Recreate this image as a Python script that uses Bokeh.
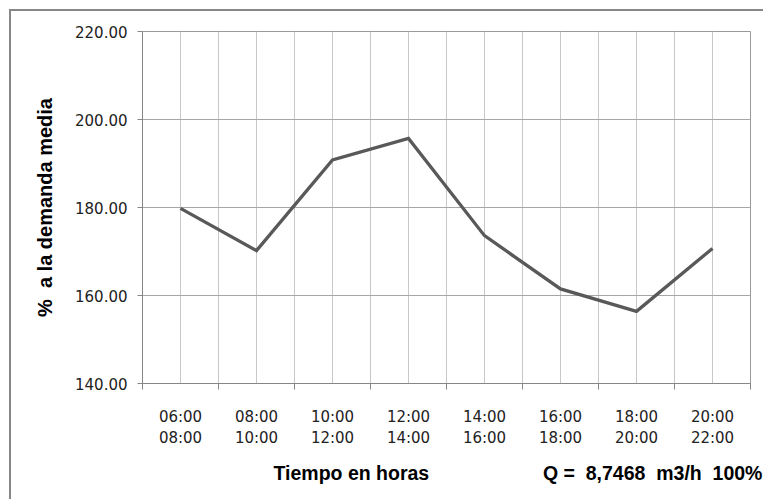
import numpy as np
from bokeh.plotting import figure
from bokeh.models import Range1d, FixedTicker, PrintfTickFormatter, Title
from bokeh.embed import file_html
from bokeh.resources import INLINE

# ---- data ----
period_start = ["06:00", "08:00", "10:00", "12:00", "14:00", "16:00", "18:00", "20:00"]
period_end = ["08:00", "10:00", "12:00", "14:00", "16:00", "18:00", "20:00", "22:00"]
demand_pct = [179.8, 170.2, 190.8, 195.7, 173.6, 161.5, 156.4, 170.7]
y_ticks = [140, 160, 180, 200, 220]
x_title = "Tiempo en horas"
y_title = "%\u00a0\u00a0a la demanda media"
q_note = "Q =\u00a0\u00a08,7468\u00a0\u00a0m3/h\u00a0\u00a0100%"

n = len(demand_pct)
centers = (np.arange(n) + 0.5).tolist()
bounds = np.arange(n + 1).tolist()
half_steps = (np.arange(2 * n + 1) / 2.0).tolist()

p = figure(width=754, height=490, output_backend="svg", toolbar_location=None,
           x_range=Range1d(0, n), y_range=Range1d(y_ticks[0], y_ticks[-1]),
           min_border_left=131, min_border_right=15, min_border_top=20, min_border_bottom=118)
p.styles = {"margin-left": "9px", "margin-top": "9px",
            "border-left": "2px solid #878787", "border-top": "2px solid #878787"}

p.background_fill_color = "white"
p.border_fill_color = "white"
p.outline_line_color = "#9a9a9a"
p.outline_line_width = 1

p.line(centers, demand_pct, line_color="#595959", line_width=3.3, line_join="miter")

# x axis
xa = p.xaxis[0]
xa.ticker = FixedTicker(ticks=centers, minor_ticks=bounds)
xa.major_label_overrides = {c: f"{s}\n{e}" for c, s, e in zip(centers, period_start, period_end)}
xa.major_tick_out = 0
xa.major_tick_in = 0
xa.minor_tick_out = 6
xa.minor_tick_in = 0
xa.minor_tick_line_color = "#868686"
xa.axis_line_color = "#868686"
xa.major_label_text_font = "DejaVu Sans"
xa.major_label_text_font_size = "15px"
xa.major_label_text_color = "#222222"
xa.major_label_text_line_height = 1.2
xa.major_label_standoff = 18

# y axis
ya = p.yaxis[0]
ya.ticker = FixedTicker(ticks=y_ticks)
ya.formatter = PrintfTickFormatter(format="%.2f")
ya.major_tick_out = 5
ya.major_tick_in = 0
ya.minor_tick_out = 0
ya.minor_tick_in = 0
ya.major_tick_line_color = "#868686"
ya.axis_line_color = "#868686"
ya.major_label_text_font = "DejaVu Sans"
ya.major_label_text_font_size = "15px"
ya.major_label_text_color = "#222222"
ya.major_label_standoff = 10
ya.axis_label = y_title
ya.axis_label_text_font = "Liberation Sans"
ya.axis_label_text_font_style = "bold"
ya.axis_label_text_font_size = "20px"
ya.axis_label_text_color = "black"
ya.axis_label_standoff = 16

# grids
p.xgrid.ticker = FixedTicker(ticks=half_steps)
p.xgrid.grid_line_color = "#c8c8c8"
p.ygrid.ticker = FixedTicker(ticks=y_ticks)
p.ygrid.grid_line_color = "#a6a6a6"

# footer line: x-axis title and flow note on one row below the axis
footer = x_title + "\u00a0" * 21 + q_note
p.add_layout(Title(text=footer, align="left", offset=131, standoff=19,
                   text_font="Liberation Sans", text_font_style="bold",
                   text_font_size="19.5px", text_color="black"), "below")

open("out.html", "w").write(file_html(p, INLINE))
